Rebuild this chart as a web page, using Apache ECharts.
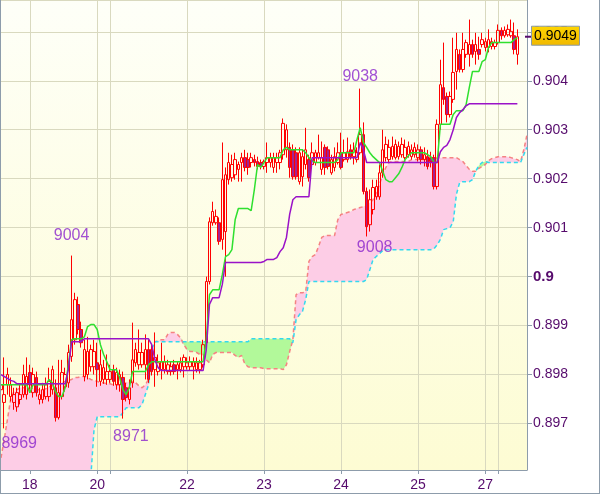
<!DOCTYPE html>
<html><head><meta charset="utf-8">
<script src="https://cdn.jsdelivr.net/npm/echarts@6/dist/echarts.min.js"></script>
<style>html,body{margin:0;padding:0;background:#fff}#c{width:600px;height:494px}</style>
</head><body><div id="c"></div>
<script>
// [day, first hour, number of hourly bars]
const daySegments = [[17,15,9],[18,0,21],[20,20,4],[21,0,24],[22,0,24],[23,0,24],[24,0,24],[25,0,21],[27,20,4],[28,0,10]];
const xLabelDays = ['18','20','22','23','24','25','27'];

// [open, close, low, high]
const candles = [
[0.89769,0.89779,0.89759,0.89800],[0.89743,0.89759,0.89690,0.89835],[0.89779,0.89800,0.89759,0.89814],[0.89755,0.89779,0.89745,0.89794],[0.89743,0.89759,0.89728,0.89773],
[0.89734,0.89763,0.89724,0.89773],[0.89749,0.89759,0.89739,0.89779],[0.89759,0.89800,0.89753,0.89820],[0.89759,0.89796,0.89749,0.89835],[0.89804,0.89779,0.89769,0.89820],
[0.89763,0.89800,0.89753,0.89814],[0.89794,0.89763,0.89755,0.89806],[0.89749,0.89759,0.89739,0.89773],[0.89749,0.89769,0.89741,0.89783],[0.89755,0.89779,0.89749,0.89794],
[0.89755,0.89786,0.89745,0.89814],[0.89769,0.89810,0.89759,0.89818],[0.89773,0.89712,0.89704,0.89790],[0.89712,0.89763,0.89708,0.89830],[0.89755,0.89804,0.89749,0.89830],
[0.89775,0.89800,0.89765,0.89814],[0.89783,0.89845,0.89773,0.89861],[0.89837,0.89912,0.89826,0.90043],[0.89871,0.89953,0.89861,0.89967],[0.89943,0.89892,0.89882,0.89959],
[0.89892,0.89865,0.89855,0.89908],[0.89796,0.89851,0.89786,0.89871],[0.89800,0.89847,0.89790,0.89877],[0.89816,0.89851,0.89806,0.89861],[0.89816,0.89847,0.89800,0.89871],
[0.89824,0.89810,0.89775,0.89865],[0.89786,0.89820,0.89777,0.89851],[0.89790,0.89814,0.89781,0.89830],[0.89790,0.89806,0.89779,0.89841],[0.89790,0.89806,0.89783,0.89820],
[0.89810,0.89786,0.89777,0.89820],[0.89779,0.89804,0.89769,0.89814],[0.89779,0.89800,0.89765,0.89810],[0.89794,0.89749,0.89710,0.89806],[0.89773,0.89753,0.89745,0.89783],
[0.89749,0.89773,0.89739,0.89790],[0.89783,0.89830,0.89773,0.89906],[0.89824,0.89851,0.89816,0.89865],[0.89820,0.89845,0.89810,0.89892],[0.89820,0.89845,0.89814,0.89865],
[0.89820,0.89851,0.89790,0.89882],[0.89851,0.89790,0.89783,0.89871],[0.89851,0.89806,0.89798,0.89861],[0.89810,0.89835,0.89775,0.89886],[0.89806,0.89824,0.89798,0.89841],
[0.89810,0.89826,0.89790,0.89865],[0.89810,0.89826,0.89802,0.89839],[0.89806,0.89820,0.89800,0.89830],[0.89806,0.89816,0.89798,0.89826],[0.89820,0.89806,0.89800,0.89830],
[0.89810,0.89820,0.89790,0.89826],[0.89810,0.89824,0.89804,0.89835],[0.89816,0.89835,0.89794,0.89841],[0.89816,0.89824,0.89810,0.89835],[0.89816,0.89826,0.89808,0.89837],
[0.89816,0.89826,0.89790,0.89835],[0.89810,0.89824,0.89804,0.89835],[0.89810,0.89824,0.89802,0.89830],[0.89820,0.89861,0.89814,0.89871],[0.89865,0.89990,0.89851,0.90000],
[0.89990,0.90112,0.89984,0.90121],[0.90110,0.90133,0.90104,0.90153],[0.90110,0.90123,0.90106,0.90137],[0.90110,0.90072,0.90065,0.90121],[0.90076,0.90198,0.90055,0.90274],
[0.90092,0.90208,0.90000,0.90223],[0.90198,0.90233,0.90188,0.90253],[0.90202,0.90229,0.90194,0.90249],[0.90208,0.90239,0.90198,0.90253],[0.90219,0.90229,0.90194,0.90235],
[0.90233,0.90243,0.90194,0.90253],[0.90243,0.90223,0.90215,0.90259],[0.90239,0.90223,0.90208,0.90253],[0.90233,0.90243,0.90223,0.90253],[0.90239,0.90233,0.90225,0.90249],
[0.90235,0.90225,0.90219,0.90245],[0.90233,0.90225,0.90219,0.90239],[0.90225,0.90235,0.90219,0.90239],[0.90233,0.90243,0.90212,0.90274],[0.90233,0.90243,0.90223,0.90253],
[0.90223,0.90243,0.90212,0.90253],[0.90233,0.90243,0.90212,0.90253],[0.90233,0.90253,0.90219,0.90259],[0.90249,0.90313,0.90239,0.90323],[0.90259,0.90300,0.90243,0.90311],
[0.90264,0.90223,0.90202,0.90274],[0.90259,0.90204,0.90198,0.90270],[0.90253,0.90204,0.90198,0.90264],[0.90194,0.90253,0.90188,0.90264],[0.90204,0.90245,0.90184,0.90259],
[0.90229,0.90259,0.90219,0.90304],[0.90239,0.90202,0.90194,0.90249],[0.90229,0.90253,0.90223,0.90274],[0.90233,0.90253,0.90227,0.90259],[0.90243,0.90253,0.90239,0.90290],
[0.90219,0.90243,0.90208,0.90276],[0.90264,0.90223,0.90208,0.90270],[0.90259,0.90225,0.90219,0.90266],[0.90212,0.90239,0.90208,0.90249],[0.90223,0.90245,0.90215,0.90264],
[0.90233,0.90253,0.90229,0.90274],[0.90253,0.90223,0.90219,0.90294],[0.90239,0.90253,0.90235,0.90280],[0.90239,0.90255,0.90233,0.90284],[0.90259,0.90245,0.90239,0.90270],
[0.90245,0.90259,0.90229,0.90274],[0.90239,0.90253,0.90233,0.90264],[0.90253,0.90290,0.90249,0.90384],[0.90290,0.90174,0.90168,0.90315],[0.90174,0.90102,0.90082,0.90182],
[0.90106,0.90157,0.90092,0.90178],[0.90137,0.90182,0.90127,0.90198],[0.90163,0.90184,0.90157,0.90198],[0.90163,0.90212,0.90157,0.90229],[0.90212,0.90259,0.90202,0.90300],
[0.90243,0.90270,0.90235,0.90286],[0.90239,0.90264,0.90233,0.90280],[0.90245,0.90266,0.90239,0.90286],[0.90243,0.90270,0.90239,0.90280],[0.90245,0.90266,0.90239,0.90276],
[0.90249,0.90270,0.90243,0.90284],[0.90243,0.90264,0.90239,0.90280],[0.90249,0.90266,0.90243,0.90276],[0.90245,0.90259,0.90239,0.90270],[0.90249,0.90264,0.90243,0.90274],
[0.90243,0.90259,0.90235,0.90270],[0.90259,0.90239,0.90229,0.90266],[0.90239,0.90249,0.90225,0.90264],[0.90245,0.90225,0.90219,0.90259],[0.90243,0.90235,0.90223,0.90255],
[0.90243,0.90184,0.90178,0.90249],[0.90184,0.90311,0.90178,0.90321],[0.90311,0.90392,0.90300,0.90443],[0.90386,0.90362,0.90351,0.90478],[0.90368,0.90331,0.90315,0.90376],
[0.90331,0.90368,0.90325,0.90378],[0.90362,0.90417,0.90355,0.90488],[0.90419,0.90464,0.90382,0.90498],[0.90454,0.90423,0.90417,0.90464],[0.90423,0.90464,0.90417,0.90498],
[0.90454,0.90478,0.90447,0.90484],[0.90454,0.90474,0.90429,0.90525],[0.90474,0.90454,0.90447,0.90484],[0.90460,0.90474,0.90433,0.90498],[0.90464,0.90454,0.90443,0.90490],
[0.90474,0.90484,0.90468,0.90498],[0.90468,0.90480,0.90460,0.90488],[0.90468,0.90484,0.90458,0.90505],[0.90470,0.90480,0.90464,0.90488],[0.90470,0.90478,0.90464,0.90484],
[0.90478,0.90503,0.90474,0.90515],[0.90503,0.90492,0.90484,0.90509],[0.90492,0.90503,0.90488,0.90511],[0.90494,0.90505,0.90490,0.90515],[0.90492,0.90501,0.90488,0.90525],
[0.90492,0.90464,0.90454,0.90519],[0.90454,0.90490,0.90433,0.90505]
];

const tenkan = [
0.89779,0.89779,0.89779,0.89779,0.89779,0.89779,0.89779,0.89779,0.89779,0.89763,
0.89779,0.89779,0.89779,0.89779,0.89779,0.89790,0.89783,0.89765,0.89755,0.89755,
0.89773,0.89820,0.89871,0.89873,0.89873,0.89873,0.89877,0.89898,0.89902,0.89902,
0.89892,0.89861,0.89841,0.89826,0.89810,0.89810,0.89810,0.89794,0.89769,0.89759,
0.89773,0.89806,0.89806,0.89806,0.89806,0.89806,0.89820,0.89826,0.89826,0.89826,
0.89826,0.89826,0.89826,0.89826,0.89826,0.89826,0.89826,0.89826,0.89826,0.89826,
0.89826,0.89826,0.89826,0.89826,0.89871,0.89963,0.89973,0.89973,0.89973,0.90004,
0.90041,0.90045,0.90055,0.90116,0.90139,0.90139,0.90139,0.90139,0.90135,0.90178,
0.90229,0.90223,0.90233,0.90243,0.90243,0.90243,0.90243,0.90243,0.90259,0.90264,
0.90259,0.90259,0.90259,0.90259,0.90259,0.90253,0.90243,0.90237,0.90233,0.90233,
0.90233,0.90233,0.90233,0.90233,0.90233,0.90239,0.90253,0.90253,0.90253,0.90253,
0.90253,0.90280,0.90304,0.90274,0.90264,0.90253,0.90245,0.90239,0.90233,0.90215,
0.90198,0.90194,0.90194,0.90202,0.90210,0.90223,0.90239,0.90247,0.90253,0.90253,
0.90253,0.90253,0.90253,0.90249,0.90245,0.90233,0.90233,0.90311,0.90311,0.90311,
0.90311,0.90331,0.90339,0.90339,0.90339,0.90351,0.90386,0.90419,0.90419,0.90419,
0.90439,0.90443,0.90468,0.90478,0.90478,0.90478,0.90478,0.90478,0.90478,0.90478,
0.90484,0.90488
];

const kijun = [
0.89800,0.89796,0.89792,0.89788,0.89786,0.89781,0.89781,0.89781,0.89781,0.89781,
0.89781,0.89781,0.89781,0.89781,0.89781,0.89781,0.89781,0.89781,0.89781,0.89781,
0.89781,0.89810,0.89867,0.89867,0.89867,0.89867,0.89873,0.89873,0.89873,0.89873,
0.89873,0.89873,0.89873,0.89873,0.89873,0.89873,0.89873,0.89873,0.89873,0.89873,
0.89873,0.89873,0.89873,0.89873,0.89873,0.89873,0.89873,0.89861,0.89830,0.89814,
0.89808,0.89808,0.89808,0.89808,0.89808,0.89808,0.89808,0.89808,0.89808,0.89808,
0.89808,0.89808,0.89808,0.89808,0.89851,0.89943,0.89957,0.89957,0.89957,0.89984,
0.90029,0.90029,0.90029,0.90029,0.90029,0.90029,0.90029,0.90029,0.90029,0.90029,
0.90029,0.90029,0.90031,0.90035,0.90035,0.90035,0.90039,0.90051,0.90059,0.90080,
0.90127,0.90157,0.90163,0.90163,0.90163,0.90163,0.90163,0.90243,0.90243,0.90243,
0.90243,0.90243,0.90243,0.90243,0.90243,0.90243,0.90243,0.90243,0.90243,0.90243,
0.90243,0.90243,0.90274,0.90259,0.90233,0.90233,0.90233,0.90233,0.90233,0.90233,
0.90233,0.90233,0.90233,0.90233,0.90233,0.90233,0.90233,0.90233,0.90233,0.90233,
0.90233,0.90233,0.90233,0.90233,0.90233,0.90233,0.90233,0.90255,0.90264,0.90268,
0.90280,0.90300,0.90325,0.90335,0.90341,0.90349,0.90353,0.90353,0.90353,0.90353,
0.90353,0.90353,0.90353,0.90353,0.90353,0.90353,0.90353,0.90353,0.90353,0.90353,
0.90353,0.90353
];

const senkouA = [
0.89630,0.89667,0.89708,0.89749,0.89765,0.89769,0.89773,0.89773,0.89773,0.89773,
0.89771,0.89769,0.89769,0.89769,0.89771,0.89775,0.89777,0.89779,0.89781,0.89783,
0.89786,0.89788,0.89790,0.89794,0.89794,0.89796,0.89796,0.89794,0.89790,0.89788,
0.89786,0.89783,0.89783,0.89781,0.89781,0.89779,0.89779,0.89779,0.89781,0.89783,
0.89786,0.89786,0.89783,0.89777,0.89773,0.89779,0.89790,0.89855,0.89867,0.89869,
0.89871,0.89871,0.89882,0.89886,0.89886,0.89882,0.89875,0.89861,0.89851,0.89847,
0.89847,0.89845,0.89841,0.89841,0.89830,0.89824,0.89841,0.89845,0.89845,0.89845,
0.89845,0.89845,0.89845,0.89839,0.89835,0.89839,0.89822,0.89816,0.89814,0.89814,
0.89814,0.89814,0.89812,0.89812,0.89812,0.89812,0.89812,0.89812,0.89810,0.89820,
0.89847,0.89871,0.89963,0.89967,0.89967,0.89969,0.90031,0.90041,0.90045,0.90061,
0.90080,0.90084,0.90084,0.90084,0.90084,0.90116,0.90127,0.90129,0.90131,0.90133,
0.90137,0.90139,0.90141,0.90143,0.90147,0.90151,0.90157,0.90172,0.90188,0.90208,
0.90223,0.90233,0.90235,0.90235,0.90235,0.90235,0.90235,0.90235,0.90239,0.90239,
0.90239,0.90239,0.90239,0.90239,0.90239,0.90239,0.90243,0.90243,0.90243,0.90243,
0.90243,0.90243,0.90243,0.90239,0.90235,0.90227,0.90219,0.90215,0.90215,0.90221,
0.90225,0.90229,0.90237,0.90241,0.90243,0.90245,0.90245,0.90245,0.90245,0.90243,
0.90241,0.90239,0.90235,0.90259,0.90290
];

const senkouB = [
0.89590,0.89590,0.89590,0.89590,0.89590,0.89590,0.89590,0.89590,0.89590,0.89590,
0.89590,0.89590,0.89590,0.89590,0.89590,0.89590,0.89590,0.89590,0.89590,0.89590,
0.89590,0.89590,0.89590,0.89590,0.89590,0.89590,0.89590,0.89590,0.89590,0.89687,
0.89714,0.89714,0.89714,0.89714,0.89714,0.89714,0.89714,0.89714,0.89722,0.89732,
0.89732,0.89732,0.89732,0.89732,0.89739,0.89759,0.89779,0.89851,0.89867,0.89867,
0.89867,0.89867,0.89867,0.89867,0.89867,0.89867,0.89867,0.89867,0.89867,0.89867,
0.89867,0.89867,0.89867,0.89867,0.89867,0.89867,0.89867,0.89867,0.89867,0.89867,
0.89867,0.89867,0.89867,0.89867,0.89867,0.89867,0.89867,0.89867,0.89873,0.89873,
0.89873,0.89873,0.89873,0.89873,0.89873,0.89873,0.89873,0.89873,0.89873,0.89873,
0.89873,0.89865,0.89912,0.89922,0.89929,0.89953,0.89990,0.89990,0.89990,0.89990,
0.89990,0.89990,0.89990,0.89990,0.89990,0.89990,0.89990,0.89990,0.89990,0.89990,
0.89990,0.89990,0.89990,0.89990,0.89994,0.90014,0.90035,0.90041,0.90047,0.90053,
0.90055,0.90055,0.90055,0.90055,0.90055,0.90055,0.90055,0.90055,0.90055,0.90055,
0.90055,0.90055,0.90055,0.90055,0.90055,0.90057,0.90065,0.90076,0.90096,0.90098,
0.90100,0.90112,0.90168,0.90192,0.90194,0.90194,0.90194,0.90198,0.90215,0.90227,
0.90233,0.90235,0.90233,0.90233,0.90233,0.90233,0.90233,0.90233,0.90233,0.90233,
0.90233,0.90233,0.90233,0.90249,0.90264
];

// bars whose high / low carries a label
const extremeMarks = [[1,'low'],[22,'high'],[38,'low'],[112,'high'],[114,'low']];

// ---- build ----
const categories = [], dayStart = [];
daySegments.forEach(([day, h0, n], s) => {
  for (let k = 0; k < n; k++) {
    categories.push(day + ' ' + String(h0 + k).padStart(2, '0') + ':00');
    dayStart.push(k === 0 && s > 0);
  }
});
const cloudBase = senkouA.map((a, i) => Math.min(a, senkouB[i]));
const cloudPink = senkouA.map((a, i) => Math.max(a - senkouB[i], 0));
const cloudGreen = senkouA.map((a, i) => Math.max(senkouB[i] - a, 0));
const lastClose = candles[candles.length - 1][1];

const FONT = 'Liberation Sans, Arial, sans-serif';
const AXIS = '#8d9cab';
const TXT = '#560b6c';
const GRIDC = '#d9d9bf';
const labelOffsets = {1: [15, 15], 22: [0, -20], 38: [8, 18], 112: [0, -12], 114: [8, 11]};

const markData = extremeMarks.map(([i, kind]) => {
  const v = kind === 'high' ? candles[i][3] : candles[i][2];
  return { value: [i, v], name: String(Math.round(v * 10000)), label: { offset: labelOffsets[i] } };
});

const frame = [
  { id: 'fl', type: 'line', shape: { x1: 0.5, y1: 0, x2: 0.5, y2: 494 }, style: { stroke: AXIS, lineWidth: 1 }, z: 10 },
  { id: 'fr', type: 'line', shape: { x1: 599.5, y1: 0, x2: 599.5, y2: 494 }, style: { stroke: AXIS, lineWidth: 1 }, z: 10 },
  { id: 'fb', type: 'line', shape: { x1: 0, y1: 493.5, x2: 600, y2: 493.5 }, style: { stroke: AXIS, lineWidth: 1 }, z: 10 }
];

const chart = echarts.init(document.getElementById('c'), null, {renderer: 'canvas'});
chart.setOption({
  animation: false,
  backgroundColor: '#ffffff',
  textStyle: { fontFamily: FONT },
  grid: {
    left: 1, right: 73, top: 0, bottom: 24, show: true, borderWidth: 0,
    backgroundColor: new echarts.graphic.LinearGradient(0, 0, 0, 1, [
      {offset: 0, color: '#fefff8'}, {offset: 1, color: '#fdfcd3'}])
  },
  xAxis: {
    type: 'category', data: categories, boundaryGap: false,
    axisLine: { lineStyle: { color: AXIS, width: 1 } },
    axisTick: { show: true, interval: (i) => dayStart[i], length: 4, lineStyle: { color: AXIS } },
    axisLabel: {
      interval: (i, v) => dayStart[i] && xLabelDays.includes(v.split(' ')[0]),
      formatter: (v) => v.split(' ')[0],
      color: TXT, fontSize: 14, margin: 8, fontFamily: FONT
    },
    splitLine: { show: true, interval: (i) => dayStart[i], lineStyle: { color: GRIDC, width: 1 } }
  },
  yAxis: {
    type: 'value', position: 'right', min: 0.89605, max: 0.90565, splitNumber: 10,
    axisLine: { show: true, lineStyle: { color: AXIS, width: 1 } },
    axisTick: { show: true, length: 5, lineStyle: { color: AXIS } },
    axisLabel: {
      showMinLabel: false, showMaxLabel: false, margin: 6, color: TXT, fontSize: 14, fontFamily: FONT,
      formatter: (v) => Math.abs(v - 0.9) < 1e-7 ? '{b|0.9}' : v.toFixed(3),
      rich: { b: { fontWeight: 'bold', fontSize: 15, color: TXT, fontFamily: FONT } }
    },
    splitLine: { show: true, lineStyle: { color: GRIDC, width: 1 } }
  },
  series: [
    { type: 'line', data: cloudBase, stack: 'cloud', symbol: 'none', silent: true, z: 1,
      lineStyle: { opacity: 0, width: 0 } },
    { type: 'line', data: cloudPink, stack: 'cloud', symbol: 'none', silent: true, z: 1,
      lineStyle: { opacity: 0, width: 0 }, areaStyle: { color: '#fdcde6', opacity: 1 } },
    { type: 'line', data: cloudGreen, stack: 'cloud', symbol: 'none', silent: true, z: 1,
      lineStyle: { opacity: 0, width: 0 }, areaStyle: { color: '#b2f99a', opacity: 1 } },
    { type: 'line', data: senkouA, symbol: 'none', silent: true, z: 2,
      lineStyle: { color: '#f58282', width: 1.5, type: [4, 3] } },
    { type: 'line', data: senkouB, symbol: 'none', silent: true, z: 2,
      lineStyle: { color: '#33d9ee', width: 1.5, type: [4, 3] } },
    { type: 'candlestick', data: candles, barWidth: 3, z: 3,
      itemStyle: { color: 'rgba(0,0,0,0)', color0: '#a3228f', borderColor: '#ff0000', borderColor0: '#ff0000', borderWidth: 1 }
    },
    { type: 'line', data: tenkan, symbol: 'none', z: 4, lineStyle: { color: '#2fe02f', width: 1.5 } },
    { type: 'line', data: kijun, symbol: 'none', z: 4, lineStyle: { color: '#9a12c8', width: 1.5 } },
    { type: 'scatter', data: markData, symbolSize: 1, z: 5, itemStyle: { color: 'rgba(0,0,0,0)' },
      label: { show: true, position: 'inside', formatter: (p) => p.name, color: '#8a24cc', fontSize: 16, fontFamily: FONT } }
  ],
  graphic: frame
});

// current-price tag on the right axis, placed through the axis scale
const py = chart.convertToPixel({ yAxisIndex: 0 }, lastClose);
const px = chart.convertToPixel({ xAxisIndex: 0 }, categories.length - 1);
chart.setOption({
  graphic: frame.concat([
    { id: 'ptick', type: 'line', shape: { x1: px - 2, y1: py, x2: px + 4, y2: py },
      style: { stroke: '#560b6c', lineWidth: 2 }, z: 20 },
    { id: 'pbox', type: 'rect', shape: { x: px + 4.5, y: py - 10.5, width: 48, height: 19 },
      style: { fill: new echarts.graphic.LinearGradient(0, 0, 0, 1, [
        {offset: 0, color: '#ffd600'}, {offset: 1, color: '#f0b800'}]), stroke: '#8a9aa8', lineWidth: 1 }, z: 20 },
    { id: 'ptext', type: 'text', x: px + 28.5, y: py - 1,
      style: { text: lastClose.toFixed(4), fill: '#000', font: '14px ' + FONT, align: 'center', verticalAlign: 'middle',
               textAlign: 'center', textVerticalAlign: 'middle' }, z: 21 }
  ])
});
</script>
</body></html>
